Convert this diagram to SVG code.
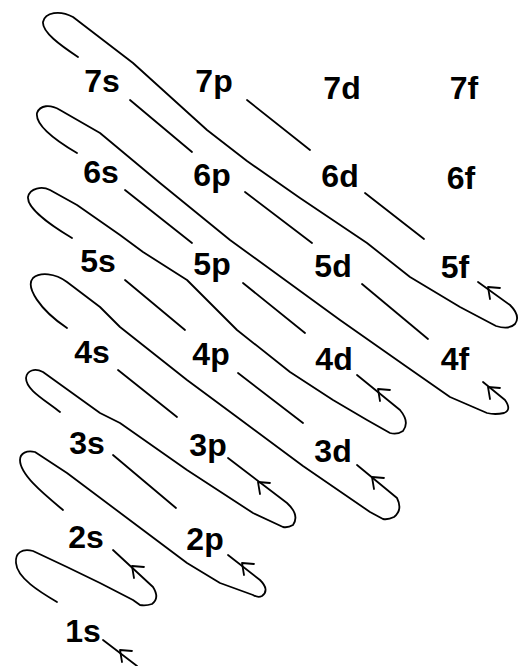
<svg xmlns="http://www.w3.org/2000/svg" xmlns:xlink="http://www.w3.org/1999/xlink" width="519" height="666" viewBox="0 0 519 666">
<style>
.ln{fill:none;stroke:#000;stroke-width:1.8;stroke-linecap:round;stroke-linejoin:round}
.lb{font-family:"Liberation Sans","DejaVu Sans",sans-serif;font-size:32px;font-weight:bold;fill:#000;text-anchor:middle}
</style>
<defs>
<path id="ah" d="M12,1 L0,0 L2,12" fill="none" stroke="#000" stroke-width="1.8" stroke-linecap="round" stroke-linejoin="round"/>
</defs>
<rect width="519" height="666" fill="#fff"/>
<g id="connectors" class="ln">
<path d="M247,100 L310,150"/>
<path d="M365,193 L424,239"/>
<path d="M478,282 L510,305 Q521,316 515,324 Q509,330 496,326 L460,307 L410,277 L367,243 L300,198 L247,161 L207,130 L133,63 L73,17 C60,10 45,12 43,22 C42,32 60,45 78,57"/>
<path d="M130,100 L192,152"/>
<path d="M245,192 L312,243"/>
<path d="M362,284 L428,339"/>
<path d="M483,382 L505,400 Q512,410 504,413 Q495,415 487,413 L450,397 L407,367 L340,320 L230,240 L160,183 L100,133 L60,110 C50,104 40,105 37,113 C35,125 55,140 77,153"/>
<path d="M125,190 L192,243"/>
<path d="M243,283 L305,333"/>
<path d="M357,375 L400,410 Q410,422 403,431 Q397,435 390,433 L367,420 L333,400 L290,372 L237,330 L187,280 L143,252 L120,235 L77,205 L50,190 C42,186 30,188 28,197 C27,208 50,225 72,238"/>
<path d="M125,280 L185,330"/>
<path d="M238,373 L303,423"/>
<path d="M357,465 L397,498 Q403,510 394,517 Q388,520 383,519 L370,512 L303,466 L237,417 L187,380 L120,327 L100,307 L67,282 C55,273 40,272 33,278 C25,287 40,310 67,328"/>
<path d="M118,370 L177,417"/>
<path d="M228,458 L287,503 Q300,515 293,525 Q288,528 283,527 L253,513 L187,470 L120,423 L100,413 L43,372 C35,368 27,370 26,378 C26,390 45,400 60,412"/>
<path d="M113,455 L176,508"/>
<path d="M228,555 L260,580 Q270,590 262,596 Q258,598 253,595 L220,583 L187,563 L143,530 L67,473 L35,452 C27,450 20,453 20,460 C20,475 45,495 63,510"/>
<path d="M113,550 L153,587 Q160,598 152,604 Q146,606 140,605 L133,600 L100,583 L67,567 L33,551 C22,548 15,553 16,563 C17,578 40,592 57,602"/>
<path d="M103,640 L137,666"/>
<use xlink:href="#ah" x="488" y="287"/>
<use xlink:href="#ah" x="488" y="387"/>
<use xlink:href="#ah" x="378" y="389"/>
<use xlink:href="#ah" x="372" y="477"/>
<use xlink:href="#ah" x="258" y="482"/>
<use xlink:href="#ah" x="242" y="563"/>
<use xlink:href="#ah" x="132" y="566"/>
<use xlink:href="#ah" x="120" y="650"/>
</g>
<g id="n7s"><text class="lb" x="102" y="92">7s</text></g>
<g id="n7p"><text class="lb" x="214" y="92">7p</text></g>
<g id="n7d"><text class="lb" x="342" y="99">7d</text></g>
<g id="n7f"><text class="lb" x="464" y="99">7f</text></g>
<g id="n6s"><text class="lb" x="101" y="183">6s</text></g>
<g id="n6p"><text class="lb" x="212" y="186">6p</text></g>
<g id="n6d"><text class="lb" x="340" y="187">6d</text></g>
<g id="n6f"><text class="lb" x="461" y="189">6f</text></g>
<g id="n5s"><text class="lb" x="98" y="272">5s</text></g>
<g id="n5p"><text class="lb" x="212" y="275">5p</text></g>
<g id="n5d"><text class="lb" x="333" y="277">5d</text></g>
<g id="n5f"><text class="lb" x="455" y="278">5f</text></g>
<g id="n4s"><text class="lb" x="92" y="363">4s</text></g>
<g id="n4p"><text class="lb" x="211" y="365">4p</text></g>
<g id="n4d"><text class="lb" x="334" y="370">4d</text></g>
<g id="n4f"><text class="lb" x="455" y="370">4f</text></g>
<g id="n3s"><text class="lb" x="87" y="454">3s</text></g>
<g id="n3p"><text class="lb" x="208" y="456">3p</text></g>
<g id="n3d"><text class="lb" x="333" y="462">3d</text></g>
<g id="n2s"><text class="lb" x="86" y="548">2s</text></g>
<g id="n2p"><text class="lb" x="205" y="550">2p</text></g>
<g id="n1s"><text class="lb" x="83" y="642">1s</text></g>
</svg>
